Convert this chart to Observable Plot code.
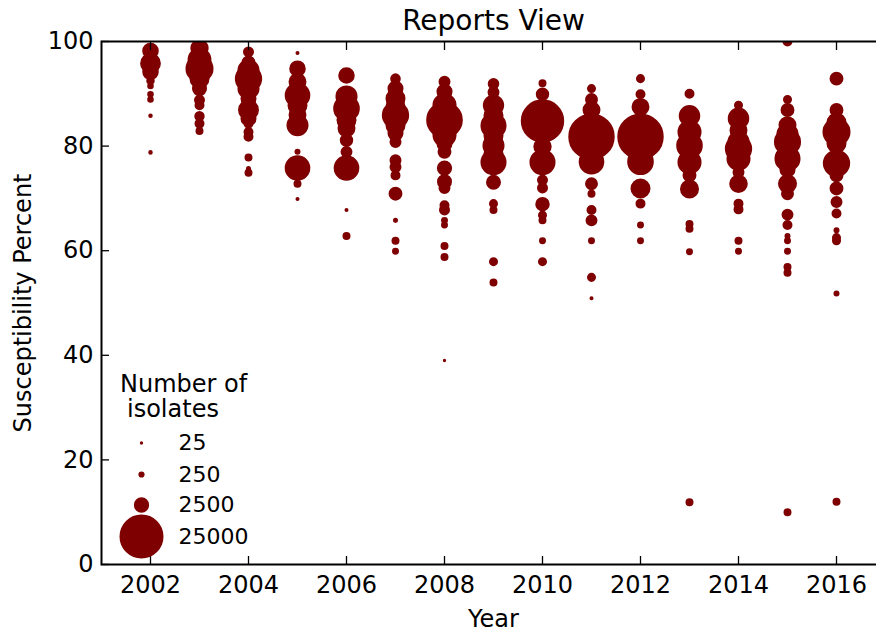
<!DOCTYPE html>
<html>
<head>
<meta charset="utf-8">
<script src="https://cdn.jsdelivr.net/npm/d3@7"></script>
<script src="https://cdn.jsdelivr.net/npm/@observablehq/plot@0.6"></script>
<style>
  html, body { margin: 0; padding: 0; background: #fff; overflow: hidden; }
  #chart { width: 876px; height: 632px; }
</style>
</head>
<body>
<div id="chart"></div>
<script>
// Susceptibility percent and number of isolates for each report, grouped by year.
// Each entry: [susceptibility %, number of isolates]
const year2002 = [[98.2, 3000], [96.5, 2000], [95.8, 5000], [94.2, 3000], [92.5, 600], [91.5, 300], [89.9, 300], [88.9, 300], [85.8, 90], [78.8, 90]];
const year2003 = [[98.7, 3800], [96.5, 6800], [94.8, 9600], [92.9, 4600], [91, 2400], [88.8, 1150], [87.8, 900], [85.7, 1000], [84.3, 900], [82.9, 510]];
const year2004 = [[98, 1150], [96, 2000], [94.5, 5700], [92.9, 9100], [91, 5700], [89.1, 2800], [86.9, 5100], [85.3, 2800], [84.3, 900], [82.7, 900], [81.8, 900], [77.8, 510], [75.7, 130], [74.9, 510]];
const year2005 = [[97.8, 60], [94.8, 3000], [92.3, 3600], [89.7, 7900], [87.8, 4600], [86, 3600], [84, 5700], [78.9, 230], [75.8, 7900], [72.8, 510], [69.9, 60]];
const year2006 = [[93.5, 3000], [89.5, 5700], [87.2, 8600], [85, 4600], [83.4, 3600], [81.1, 1850], [78.9, 1400], [75.8, 7900], [67.8, 60], [62.8, 510]];
const year2007 = [[92.9, 1050], [91, 2800], [89.1, 4600], [87.5, 4600], [85.9, 9100], [84, 4600], [82.5, 2800], [80.8, 1400], [77.3, 1400], [76, 1400], [74.4, 900], [70.9, 2000], [65.8, 130], [61.9, 510], [59.9, 350]];
const year2008 = [[92.3, 1400], [90.4, 2800], [87.8, 6900], [85, 17000], [82.1, 6900], [80.5, 2800], [78.9, 2000], [75.8, 2500], [73.2, 2400], [72, 1400], [68.7, 900], [67.8, 1150], [65.8, 350], [64.9, 350], [60.9, 510], [58.8, 510], [39, 25]];
const year2009 = [[91.9, 1300], [90.3, 1400], [87.8, 5300], [85.8, 4600], [83.9, 8200], [82, 4600], [80.1, 5700], [78.5, 4600], [76.9, 8200], [73.1, 2400], [69, 700], [67.8, 510], [57.9, 700], [53.9, 510]];
const year2010 = [[92, 510], [89.9, 1850], [84.8, 24300], [79.9, 3800], [76.9, 8200], [73.5, 1150], [72, 1150], [68.9, 2200], [66.8, 700], [65.8, 510], [61.9, 350], [57.9, 700]];
const year2011 = [[91, 700], [88.9, 1700], [86.9, 3600], [81.8, 28000], [77, 7900], [72.8, 1700], [70.9, 510], [67.8, 900], [65.8, 1400], [61.9, 350], [54.9, 700], [50.9, 60]];
const year2012 = [[92.9, 700], [89.9, 900], [87.5, 3600], [81.8, 28000], [77, 8600], [71.9, 4600], [69, 900], [64.9, 350], [61.9, 350]];
const year2013 = [[90, 900], [85.8, 5400], [82.7, 6900], [80.1, 8600], [76.9, 6900], [74.4, 2000], [71.8, 4100], [65.1, 510], [64.2, 510], [59.8, 350], [11.9, 510]];
const year2014 = [[87.8, 700], [85.3, 5400], [83, 3600], [80.8, 5700], [79.5, 9100], [77.6, 6900], [75, 1400], [72.8, 3900], [69, 900], [67.9, 900], [61.9, 510], [59.9, 350]];
const year2015 = [[100, 900], [88.9, 700], [86.9, 2000], [84, 3600], [82.3, 5700], [80.8, 8900], [77.6, 8200], [75.5, 2800], [72.8, 4100], [70.9, 1700], [66.9, 1400], [64.9, 900], [62.8, 230], [61.9, 350], [59.9, 350], [56.9, 510], [55.8, 510], [10, 510]];
const year2016 = [[92.9, 2000], [86.9, 2000], [84.5, 4600], [82.7, 9600], [80.5, 4600], [76.7, 9100], [74.4, 2000], [71.9, 2000], [69.3, 1400], [67.1, 900], [63.9, 230], [62.5, 700], [61.9, 700], [51.8, 230], [12, 510]];

const years = [2002, 2003, 2004, 2005, 2006, 2007, 2008, 2009, 2010, 2011, 2012, 2013, 2014, 2015, 2016];
const reportsByYear = [year2002, year2003, year2004, year2005, year2006, year2007, year2008, year2009, year2010, year2011, year2012, year2013, year2014, year2015, year2016];

const xTicks = [2002, 2004, 2006, 2008, 2010, 2012, 2014, 2016];
const yTicks = [0, 20, 40, 60, 80, 100];
const legendSizes = [25, 250, 2500, 25000];
const legendTitle = ["Number of", "isolates"];

const reports = years.flatMap((year, i) =>
  reportsByYear[i].map(([pct, isolates]) => ({year, pct, isolates}))
);

const ink = "#7f0000";
const font = "DejaVu Sans, sans-serif";

// Legend rows: vertical offsets from the bottom of the frame
const legendRowDy = [-121.5, -90, -59.5, -28];

const legendMarks = legendSizes.flatMap((s, i) => [
  Plot.dot([s], {r: d => d, frameAnchor: "bottom-left", dx: 40, dy: legendRowDy[i],
    fill: ink, stroke: ink, strokeWidth: 2}),
  Plot.text([String(s)], {frameAnchor: "bottom-left", dx: 77, dy: legendRowDy[i],
    textAnchor: "start", lineAnchor: "middle", fontSize: 22, fontFamily: font, fill: "#000"})
]);

const chart = Plot.plot({
  width: 876,
  height: 632,
  marginLeft: 101,
  marginRight: -9,
  marginTop: 41,
  marginBottom: 68,
  style: {fontFamily: font, fontSize: "24px", color: "#000", background: "#fff"},
  x: {domain: [2001, 2017]},
  y: {domain: [0, 100]},
  r: {type: "sqrt", domain: [0, 25000], range: [0, 21]},
  marks: [
    Plot.dot(reports, {x: "year", y: "pct", r: "isolates", fill: ink, stroke: ink, strokeWidth: 2, clip: true}),
    Plot.axisX({anchor: "bottom", ticks: xTicks, tickSize: -8, tickPadding: 19, tickFormat: d => String(d), label: null, strokeWidth: 1.3}),
    Plot.axisX({anchor: "top", ticks: xTicks, tickSize: -8, tickFormat: () => "", label: null, strokeWidth: 1.3}),
    Plot.axisY({anchor: "left", ticks: yTicks, tickSize: -8, tickPadding: 16, label: null, strokeWidth: 1.3}),
    Plot.frame({stroke: "#000", strokeWidth: 2}),
    ...legendMarks,
    Plot.text([legendTitle[0]], {frameAnchor: "bottom-left", dx: 18.5, dy: -180.5, textAnchor: "start", lineAnchor: "middle", fontSize: 24, fontFamily: font, fill: "#000"}),
    Plot.text([legendTitle[1]], {frameAnchor: "bottom-left", dx: 25.5, dy: -155, textAnchor: "start", lineAnchor: "middle", fontSize: 24, fontFamily: font, fill: "#000"}),
    Plot.text(["Reports View"], {frameAnchor: "top", dy: -20, lineAnchor: "middle", fontSize: 28, fontFamily: font, fill: "#000"}),
    Plot.text(["Year"], {frameAnchor: "bottom", dy: 55, lineAnchor: "middle", fontSize: 24, fontFamily: font, fill: "#000"}),
    Plot.text(["Susceptibility Percent"], {frameAnchor: "left", dx: -78, rotate: -90, textAnchor: "middle", lineAnchor: "middle", fontSize: 24, fontFamily: font, fill: "#000"})
  ]
});

document.getElementById("chart").appendChild(chart);
</script>
</body>
</html>
